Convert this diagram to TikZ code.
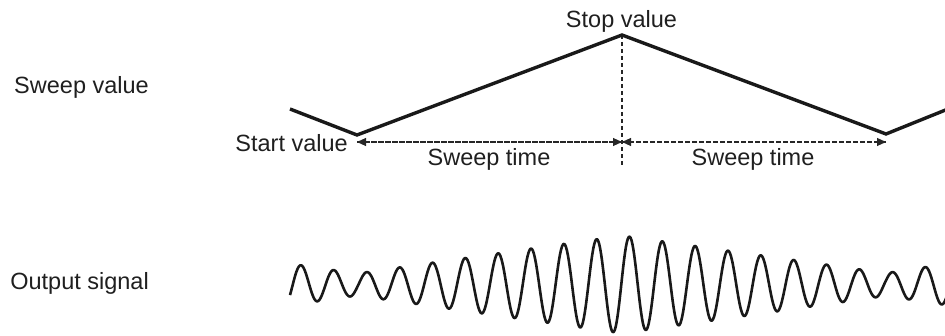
\documentclass[tikz,border=0pt]{standalone}
\usepackage{fontspec}
\setmainfont{Liberation Sans}
\usetikzlibrary{arrows.meta}
\begin{document}
\begin{tikzpicture}[x=1pt,y=-1pt,
  lbl/.style={inner sep=0pt,font=\fontsize{23.5}{27}\selectfont,color=black!88},
  sweepline/.style={line width=3.4pt,line join=miter,color=black!90},
  guide/.style={line width=1.1pt,dash pattern=on 4pt off 3pt,color=black!85},
  tarrow/.style={guide,-{Triangle[length=9pt,width=8pt]}},
  wave/.style={line width=2.6pt,color=black!90,line join=round},
  declare function={
    tri(\t)= (\t<357) ? (109+(\t-290)*0.388) : ((\t<622) ? (135-(\t-357)*0.3774) : ((\t<886) ? (35+(\t-622)*0.375) : (134-(\t-886)*0.4068)));
    amp(\t)= 11+0.38*(135-tri(\t));
  }]
\useasboundingbox (0,0) rectangle (945,336);
% corner points of the sweep
\coordinate (p0) at (290,109);
\coordinate (p1) at (357,135);
\coordinate (p2) at (622,35);
\coordinate (p3) at (886,134);
\coordinate (p4) at (948,109);
\coordinate (mid) at (622,142);
\coordinate (vbot) at (622,167);
\coordinate (lt) at (357,142);
\coordinate (rt) at (886,142);
% labels
\node[lbl,anchor=base east] (sv) at (149,94) {Sweep value};
\node[lbl,anchor=base east] (os) at (149,290) {Output signal};
\node[lbl,anchor=base east] (start) at (348,152) {Start value};
\node[lbl,anchor=base] (stop) at (621.5,28) {Stop value};
\node[lbl,anchor=base] (st1) at (489,166) {Sweep time};
\node[lbl,anchor=base] (st2) at (753,166) {Sweep time};
% guides
\draw[guide] (p2) -- (vbot);
\draw[tarrow] (mid) -- (lt);
\draw[tarrow] (lt) -- (mid);
\draw[tarrow] (mid) -- (rt);
\draw[tarrow] (rt) -- (mid);
% sweep
\draw[sweepline] (p0) -- (p1) -- (p2) -- (p3) -- (p4);
% output signal
\draw[wave] plot[domain=290:946,samples=700,smooth] (\x,{284.5-amp(\x)*cos((\x-301)/32.85*360)});
\end{tikzpicture}
\end{document}
